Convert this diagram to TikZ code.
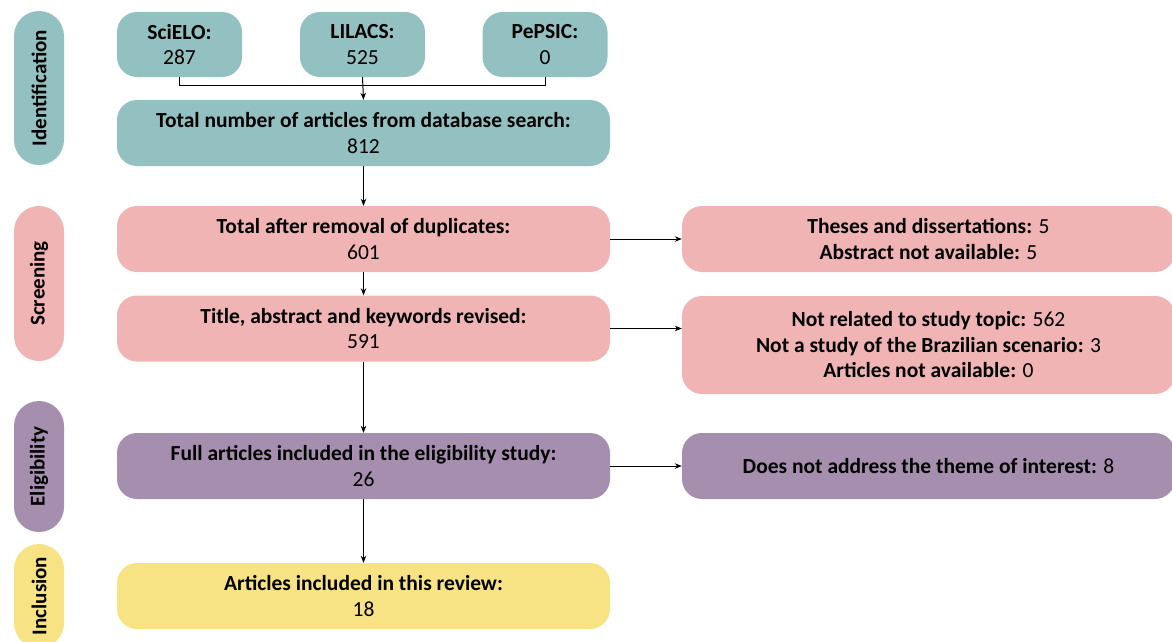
\documentclass[tikz,border=0pt]{standalone}
\usepackage{fontspec}
\setmainfont{Carlito}
\usetikzlibrary{arrows.meta}
\definecolor{cteal}{HTML}{93C0C0}
\definecolor{cpink}{HTML}{EFB4B3}
\definecolor{cpurp}{HTML}{A68FAE}
\definecolor{cyell}{HTML}{F7E383}
\tikzset{
  box/.style={rectangle, rounded corners=20pt, draw=none, align=center, inner sep=0pt,
    font=\fontsize{21.5}{25.5}\selectfont, text=black},
  mainbox/.style={box, minimum width=493pt, minimum height=66pt},
  dbbox/.style={box, minimum width=125pt, minimum height=65pt},
  sidebox/.style={rectangle, rounded corners=25pt, draw=none, inner sep=0pt,
    minimum width=50pt, rotate=90, font=\fontsize{21}{24}\selectfont\bfseries, text=black},
  arr/.style={-{Stealth[length=7pt,width=5.5pt]}, line width=1pt, black},
  ln/.style={line width=1pt, black},
}
\begin{document}
\begin{tikzpicture}[x=1pt,y=-1pt]
\useasboundingbox (0,0) rectangle (1172,641);
\clip (0,0) rectangle (1172,641);
% side labels
\node[sidebox, fill=cteal, minimum width=154pt, minimum height=50pt] (sid) at (39,88) {Identification};
\node[sidebox, fill=cpink, minimum width=155pt, minimum height=50pt] (sscr) at (39,283.5) {Screening};
\node[sidebox, fill=cpurp, minimum width=131pt, minimum height=50pt] (sel) at (39,466.5) {Eligibility};
\node[sidebox, fill=cyell, minimum width=104pt, minimum height=50pt] (sinc) at (39,596) {Inclusion};
% database boxes
\node[dbbox, fill=cteal] (sci) at (179.5,44.5) {\textbf{SciELO:}\\287};
\node[dbbox, fill=cteal] (lil) at (362.5,44.5) {\textbf{LILACS:}\\525};
\node[dbbox, fill=cteal] (pep) at (545,44.5) {\textbf{PePSIC:}\\0};
% main column
\node[mainbox, fill=cteal] (tot) at (363.5,133) {\textbf{Total number of articles from database search:}\\812};
\node[mainbox, fill=cpink] (dup) at (363.5,239) {\textbf{Total after removal of duplicates:}\\601};
\node[mainbox, fill=cpink] (tit) at (363.5,328.5) {\textbf{Title, abstract and keywords revised:}\\591};
\node[mainbox, fill=cpurp] (ful) at (363.5,466) {\textbf{Full articles included in the eligibility study:}\\26};
\node[mainbox, fill=cyell] (inc) at (363.5,596) {\textbf{Articles included in this review:}\\18};
% right column
\node[mainbox, fill=cpink] (exc1) at (928.5,239) {\textbf{Theses and dissertations:} 5\\\textbf{Abstract not available:} 5};
\node[mainbox, fill=cpink, minimum height=98pt] (exc2) at (928.5,345) {\textbf{Not related to study topic:} 562\\\textbf{Not a study of the Brazilian scenario:} 3\\\textbf{Articles not available:} 0};
\node[mainbox, fill=cpurp] (exc3) at (928.5,466) {\textbf{Does not address the theme of interest:} 8};
% connectors
\coordinate (jl) at (179.5,85);
\coordinate (jr) at (545,85);
\draw[ln] (sci.south) -- (jl) -- (jr) -- (pep.south);
\draw[arr] (lil.south) -- (tot.north);
\draw[arr] (tot.south) -- (dup.north);
\draw[arr] (dup.south) -- (tit.north);
\draw[arr] (tit.south) -- (ful.north);
\draw[arr] (ful.south) -- (inc.north);
\draw[arr] (dup.east) -- (exc1.west);
\draw[arr] (tit.east) -- (tit.east -| exc2.west);
\draw[arr] (ful.east) -- (exc3.west);
\end{tikzpicture}
\end{document}
